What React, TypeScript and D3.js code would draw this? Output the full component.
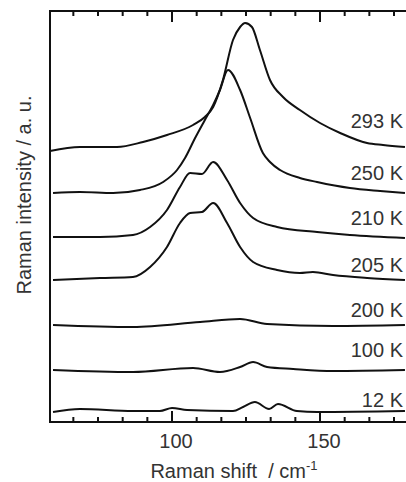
import React from "react"
import * as d3 from "d3"

// Raman shift (cm-1), intensity (a. u., vertically offset)
const s293: [number, number][] = [
  [58.8, 271], [68.9, 275], [81.4, 275], [90.2, 280], [98.3, 287], [107.1, 297],
  [111.1, 305], [113.9, 315], [117.2, 342], [120.6, 382], [123.0, 395], [124.7, 399],
  [127.0, 395], [129.7, 372], [133.1, 342], [137.5, 325], [143.2, 312], [150.0, 299],
  [156.8, 289], [165.9, 279], [171.3, 277], [178.7, 275],
]
const s250: [number, number][] = [
  [59.8, 229], [68.9, 230], [80.1, 229], [89.2, 232], [97.0, 240], [101.7, 252],
  [104.4, 264], [107.8, 284], [111.1, 302], [113.9, 317], [116.2, 332], [118.9, 352],
  [123.0, 332], [126.4, 304], [130.7, 269], [133.1, 260], [136.5, 252], [143.2, 244],
  [149.0, 240], [160.1, 234], [170.3, 231], [178.7, 229],
]
const s210: [number, number][] = [
  [59.8, 185], [75.7, 185], [86.8, 187], [92.6, 195], [98.3, 212], [102.7, 235],
  [106.1, 249], [110.1, 248], [113.9, 260], [118.6, 242], [123.0, 219], [127.4, 204],
  [135.5, 195], [149.0, 190], [160.1, 187], [178.7, 184],
]
const s205: [number, number][] = [
  [59.8, 142], [75.7, 144], [86.8, 145], [92.6, 155], [98.3, 175], [102.7, 199],
  [106.1, 209], [110.1, 210], [113.9, 219], [118.6, 199], [123.0, 175], [127.4, 160],
  [135.5, 152], [143.2, 149], [147.6, 150], [154.4, 147], [165.9, 144], [178.7, 142],
]
const s200: [number, number][] = [
  [59.8, 97], [86.8, 95], [109.5, 100], [123.0, 103], [132.1, 98], [154.4, 96], [178.7, 97],
]
const s100: [number, number][] = [
  [59.8, 52], [86.8, 50], [107.1, 54], [116.2, 50], [123.0, 55], [127.4, 60],
  [132.1, 55], [140.9, 53], [154.4, 51], [178.7, 52],
]
const s12: [number, number][] = [
  [59.8, 10], [68.9, 13], [86.8, 11], [95.9, 11], [100, 14], [105.1, 12], [120.6, 11],
  [124.0, 15], [128.0, 20], [132.8, 13], [135.8, 18], [142.2, 11], [149.0, 10], [178.7, 11],
]

const spectra = [s293, s250, s210, s205, s200, s100, s12]
const temps = ["293 K", "250 K", "210 K", "205 K", "200 K", "100 K", "12 K"]
const labelLevels = [294, 242, 197, 150, 105, 65, 15]

const majorTicks = [100, 150]
const minorTicks = d3.range(-4, 10).map(k => 100 + (k * 50) / 6)

export default function App() {
  const width = 406
  const height = 482
  const margin = { top: 11, left: 50, bottom: 60, right: 0 }
  const font = "Liberation Sans, Arial, sans-serif"
  const bottom = height - margin.bottom

  const x = d3.scaleLinear().domain([58.78, 179.05]).range([margin.left, width - margin.right])
  const y = d3.scaleLinear().domain([0, 411]).range([bottom, margin.top])

  const line = d3.line<[number, number]>()
    .x(d => x(d[0]))
    .y(d => y(d[1]))
    .curve(d3.curveMonotoneX)

  // all ticks point into the plot, top and bottom
  const ticks = [
    ...minorTicks.map(v => ({ v, len: 5 })),
    ...majorTicks.map(v => ({ v, len: 11 })),
  ]

  return (
    <svg width={width} height={height}
      style={{ position: "absolute", left: 0, top: 0, background: "#fff" }}>
      <g fill="none" stroke="#111" strokeWidth={2} strokeLinejoin="round">
        {spectra.map((s, i) => <path key={i} d={line(s) ?? ""} />)}
      </g>

      <g stroke="#111" strokeWidth={2}>
        {ticks.map((t, i) => (
          <g key={i}>
            <line x1={x(t.v)} x2={x(t.v)} y1={bottom} y2={bottom - t.len} />
            <line x1={x(t.v)} x2={x(t.v)} y1={margin.top} y2={margin.top + t.len} />
          </g>
        ))}
        <line x1={margin.left} x2={width} y1={margin.top} y2={margin.top} />
        <line x1={margin.left} x2={width} y1={bottom} y2={bottom} />
        <line x1={margin.left} x2={margin.left} y1={margin.top - 1} y2={bottom + 1} />
      </g>

      <g fontFamily={font} fontSize={20} fill="#333">
        {majorTicks.map(v => (
          <text key={v} x={x(v) + 4} y={448} textAnchor="middle">{v}</text>
        ))}
        {temps.map((t, i) => (
          <text key={t} x={width - 3} y={y(labelLevels[i])} textAnchor="end">{t}</text>
        ))}
        <text x={234} y={478} textAnchor="middle" xmlSpace="preserve">
          <tspan>Raman shift  / cm</tspan>
          <tspan fontSize={13} dy={-8}>-1</tspan>
        </text>
        <text transform="translate(31,195) rotate(-90)" textAnchor="middle">
          Raman intensity / a. u.
        </text>
      </g>
    </svg>
  )
}
